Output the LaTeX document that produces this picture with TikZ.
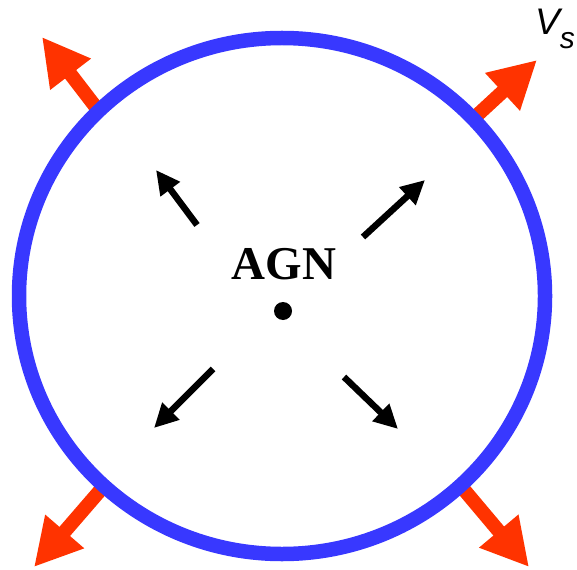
\documentclass[tikz,border=0pt]{standalone}
\usepackage{fontspec}
\usetikzlibrary{arrows.meta}
\setmainfont{Liberation Serif}
\newfontfamily\vsfont{Liberation Sans}
\definecolor{shellblue}{RGB}{56,56,255}
\definecolor{flowred}{RGB}{255,51,0}

\begin{document}
\begin{tikzpicture}[x=1pt, y=-1pt, shell/.style={line width=14.5pt, draw=shellblue}, outflow/.style={line width=14pt, draw=flowred, fill=flowred, -{Triangle[length=47pt, width=48pt]}}, wind/.style={line width=6.5pt, -{Triangle[length=24pt, width=23pt]}}]
			\useasboundingbox (0,0) rectangle (577,569);
			\coordinate (tl1) at (98,110);
			\coordinate (tl2) at (42,37);
			\coordinate (tr1) at (472,120);
			\coordinate (tr2) at (537,60);
			\coordinate (bl1) at (104,486);
			\coordinate (bl2) at (34,567);
			\coordinate (br1) at (460,485);
			\coordinate (br2) at (529,567);
			\draw[outflow] (tl1) -- (tl2);
			\draw[outflow] (tr1) -- (tr2);
			\draw[outflow] (bl1) -- (bl2);
			\draw[outflow] (br1) -- (br2);
			\draw[shell] (282,296) ellipse [x radius=263, y radius=258];
			\node[circle, fill, inner sep=0, minimum size=18] (agn) at (283,311) {};
			\node[anchor=base, inner sep=0] (agnlabel) at (284,279) {\fontsize{47}{50}\selectfont\bfseries AGN};
			\node[anchor=base west, inner sep=0] (vs) at (535,35) {\vsfont\itshape\fontsize{37}{40}\selectfont V\raisebox{-14pt}{\fontsize{30}{32}\selectfont s}};
			\coordinate (a1) at (197,225);
			\coordinate (a2) at (156,170);
			\coordinate (b1) at (363,237);
			\coordinate (b2) at (425,180);
			\coordinate (c1) at (213,369);
			\coordinate (c2) at (154,428);
			\coordinate (d1) at (344,377);
			\coordinate (d2) at (398,429);
			\draw[wind] (a1) -- (a2);
			\draw[wind] (b1) -- (b2);
			\draw[wind] (c1) -- (c2);
			\draw[wind] (d1) -- (d2);
			\end{tikzpicture}
\end{document}
